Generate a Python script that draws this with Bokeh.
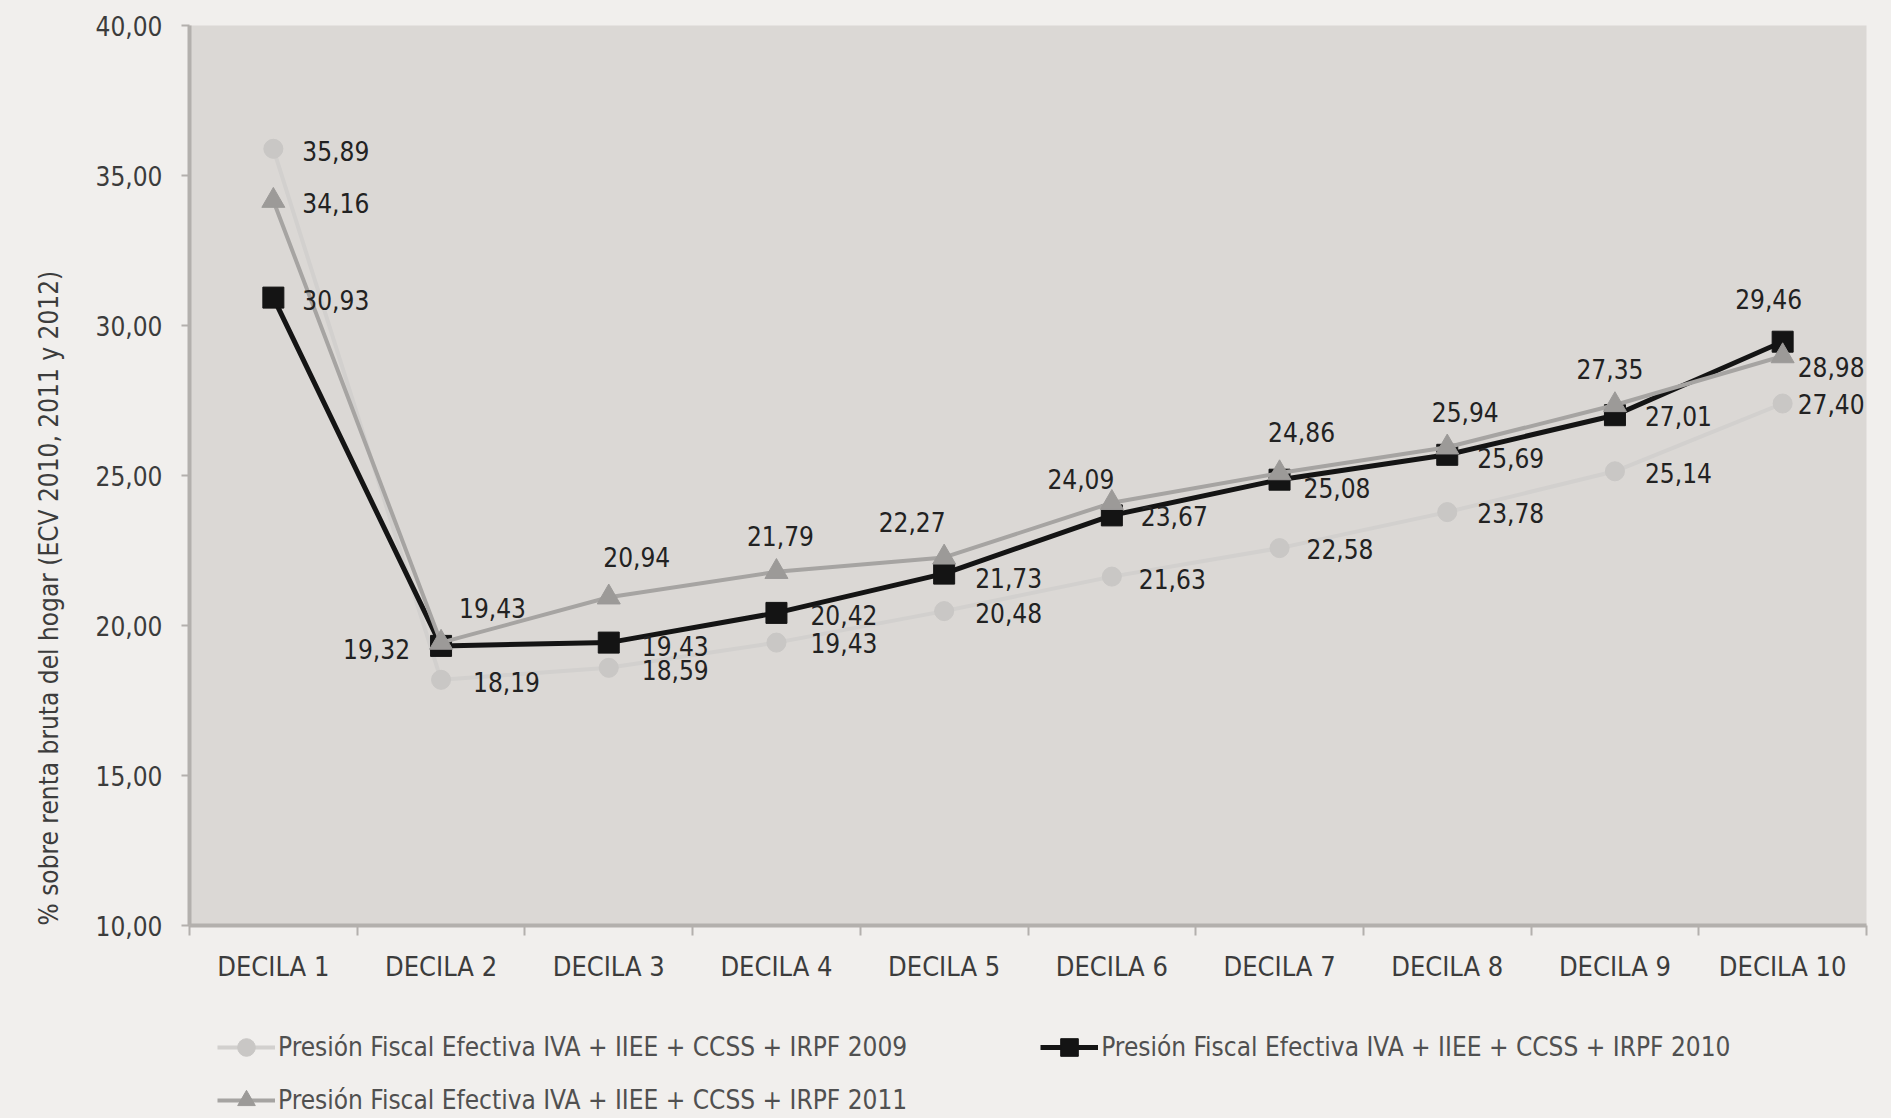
from bokeh.plotting import figure
from bokeh.layouts import column
from bokeh.models import (FixedTicker, Range1d, Legend, LegendItem, Title,
                          ColumnDataSource)
from bokeh.core.properties import value
from bokeh.embed import file_html
from bokeh.resources import INLINE

# ---------------- data ----------------
categories = ["DECILA 1", "DECILA 2", "DECILA 3", "DECILA 4", "DECILA 5",
              "DECILA 6", "DECILA 7", "DECILA 8", "DECILA 9", "DECILA 10"]
s2009 = [35.89, 18.19, 18.59, 19.43, 20.48, 21.63, 22.58, 23.78, 25.14, 27.40]
s2010 = [30.93, 19.32, 19.43, 20.42, 21.73, 23.67, 24.86, 25.69, 27.01, 29.46]
s2011 = [34.16, 19.43, 20.94, 21.79, 22.27, 24.09, 25.08, 25.94, 27.35, 28.98]
y_ticks = [10, 15, 20, 25, 30, 35, 40]
y_tick_labels = ["10,00", "15,00", "20,00", "25,00", "30,00", "35,00", "40,00"]
series_names = ["Presión Fiscal Efectiva IVA + IIEE + CCSS + IRPF 2009",
                "Presión Fiscal Efectiva IVA + IIEE + CCSS + IRPF 2010",
                "Presión Fiscal Efectiva IVA + IIEE + CCSS + IRPF 2011"]
y_title = "% sobre renta bruta del hogar (ECV 2010, 2011 y 2012)"

# ------------- label placement (style; screen px, +dy = down) -------------
lab2009_dx = [29, 32, 33, 34, 31, 27, 27, 30, 30, 15]
lab2009_dy = [2, 2, 2, 0, 2, 2, 1, 1, 2, 0]
lab2009_al = ["left"] * 10
lab2010_dx = [29, -31, 33, 34, 31, 29, 22, 30, 30, -14]
lab2010_dy = [2, 3, 3, 2, 4, 1, -48, 3, 1, -43]
lab2010_al = ["left", "right", "left", "left", "left", "left", "center", "left", "left", "center"]
lab2011_dx = [29, 18, 28, 4, -32, -31, 24, 18, -5, 15]
lab2011_dy = [2, -35, -40, -36, -35, -24, 15, -35, -36, 11]
lab2011_al = ["left", "left", "center", "center", "center", "center", "left", "center", "center", "left"]

FONT = "'DejaVu Sans Condensed', 'Roboto', sans-serif"
BG_OUT = "#f1efed"
BG_IN = "#dbd8d5"
AXIS_C = "#b3b0ad"

xs = [i + 1 for i in range(len(categories))]

p = figure(width=1891, height=1010, output_backend="svg", toolbar_location=None,
           x_range=Range1d(0.5, len(categories) + 0.5), y_range=Range1d(10, 40),
           min_border_left=189, min_border_right=25, min_border_top=25,
           min_border_bottom=85)
p.background_fill_color = BG_IN
p.border_fill_color = BG_OUT
p.outline_line_color = None
p.xgrid.visible = False
p.ygrid.visible = False

# x axis: labels at centers, ticks at boundaries
p.xaxis.ticker = FixedTicker(ticks=xs, minor_ticks=[x - 0.5 for x in xs] + [xs[-1] + 0.5])
p.xaxis.major_label_overrides = {x: c for x, c in zip(xs, categories)}
p.xaxis.major_tick_out = 0
p.xaxis.major_tick_in = 0
p.xaxis.minor_tick_out = 10
p.xaxis.minor_tick_in = 0
p.xaxis.minor_tick_line_color = AXIS_C
p.xaxis.minor_tick_line_width = 2
p.xaxis.axis_line_color = AXIS_C
p.xaxis.axis_line_width = 4
p.xaxis.major_label_standoff = 15
p.xaxis.major_label_text_font = FONT
p.xaxis.major_label_text_font_size = "27px"
p.xaxis.major_label_text_color = "#3c3c3c"

p.yaxis.ticker = FixedTicker(ticks=y_ticks, minor_ticks=[])
p.yaxis.major_label_overrides = {t: l for t, l in zip(y_ticks, y_tick_labels)}
p.yaxis.major_tick_out = 8
p.yaxis.major_tick_in = 0
p.yaxis.major_tick_line_color = AXIS_C
p.yaxis.major_tick_line_width = 2
p.yaxis.axis_line_color = AXIS_C
p.yaxis.axis_line_width = 4
p.yaxis.major_label_standoff = 19
p.yaxis.major_label_text_font = FONT
p.yaxis.major_label_text_font_size = "26px"
p.yaxis.major_label_text_color = "#3c3c3c"

p.add_layout(Title(text=y_title, align="left", text_font=FONT, text_font_size="26px",
                   text_font_style="normal", text_color="#3c3c3c", standoff=58), "left")

styles = [
    dict(vals=s2009, marker="circle", color="#c9c7c5", lcolor="#d2d0ce", lw=4, size=19,
         dx=lab2009_dx, dy=lab2009_dy, al=lab2009_al),
    dict(vals=s2010, marker="square", color="#141414", lcolor="#141414", lw=5, size=21,
         dx=lab2010_dx, dy=lab2010_dy, al=lab2010_al),
    dict(vals=s2011, marker="triangle", color="#9c9a98", lcolor="#a6a4a2", lw=4, size=23,
         dx=lab2011_dx, dy=lab2011_dy, al=lab2011_al),
]

for st in styles:
    src = ColumnDataSource(dict(x=xs, y=st["vals"],
                                lab=[f"{v:.2f}".replace(".", ",") for v in st["vals"]],
                                dx=st["dx"], dy=st["dy"], al=st["al"]))
    p.line("x", "y", source=src, line_color=st["lcolor"], line_width=st["lw"])
    p.scatter("x", "y", source=src, marker=st["marker"], size=st["size"],
              fill_color=st["color"], line_color=st["color"])
    st["src"] = src

for st in styles:
    p.text("x", "y", text="lab", source=st["src"], x_offset="dx", y_offset="dy",
           text_align="al", text_baseline="middle", text_font=value(FONT),
           text_font_size="26px", text_color="#222222")

# ---------------- legend strip (separate figure below) ----------------
q = figure(width=1891, height=108, output_backend="svg", toolbar_location=None,
           x_axis_type=None, y_axis_type=None, x_range=Range1d(100, 101),
           y_range=Range1d(100, 101), min_border=0)
q.background_fill_alpha = 0
q.border_fill_alpha = 0
q.outline_line_color = None
q.xgrid.visible = False
q.ygrid.visible = False

items = []
for name, st in zip(series_names, styles):
    ln = q.line("x", "y", source=st["src"], line_color=st["lcolor"], line_width=st["lw"])
    sc = q.scatter("x", "y", source=st["src"], marker=st["marker"], size=st["size"],
                   fill_color=st["color"], line_color=st["color"])
    items.append(LegendItem(label=name, renderers=[ln, sc], index=0))

common = dict(orientation="horizontal", glyph_width=58, glyph_height=44, label_height=44,
              label_standoff=3, label_text_font=FONT, label_text_font_size="26px",
              label_text_color="#505050", background_fill_alpha=0, border_line_color=None,
              padding=0, margin=0)
leg1 = Legend(items=[items[0], items[1]], spacing=133, location=(28, 49), **common)
leg2 = Legend(items=[items[2]], spacing=0, location=(28, -4), **common)
q.add_layout(leg1)
q.add_layout(leg2)

layout = column(p, q, spacing=0, styles={"background-color": BG_OUT})
open("out.html", "w").write(file_html(layout, INLINE))
